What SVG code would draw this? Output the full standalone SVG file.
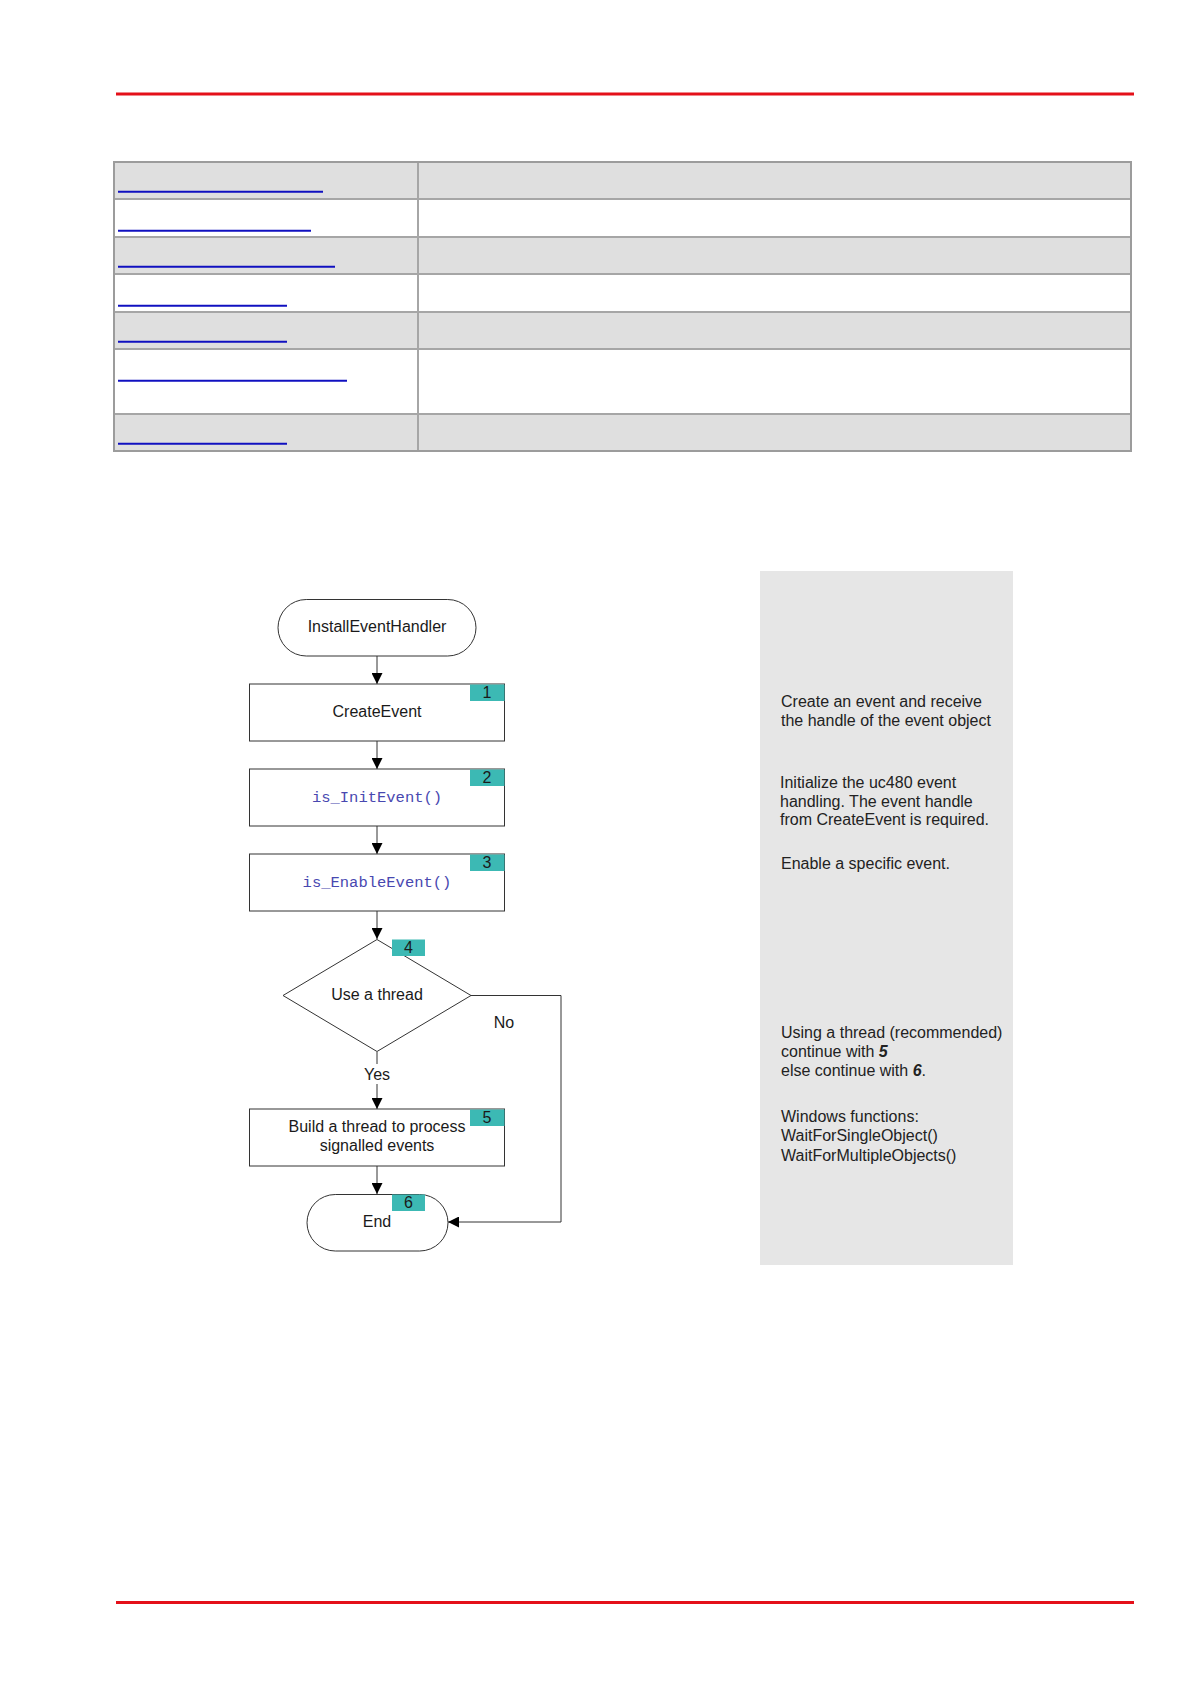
<svg xmlns="http://www.w3.org/2000/svg" width="1190" height="1684" viewBox="0 0 1190 1684">
<style>
.t{font-family:"Liberation Sans",Arial,sans-serif;font-size:16px;fill:#1a1a1a}
.c{text-anchor:middle}
.m{font-family:"Liberation Mono","Courier New",monospace;font-size:15.5px;fill:#4848b0;text-anchor:middle}
.box{fill:#fff;stroke:#333;stroke-width:1}
.tag{fill:#3cb9b4}
.conn{fill:none;stroke:#333;stroke-width:1}
.row{stroke:#a6a6a6;stroke-width:2}
.lnk{stroke:#1010c0;stroke-width:2}
.p{font-family:"Liberation Sans",Arial,sans-serif;font-size:16px;fill:#222}
</style>
<defs>
<marker id="ah" markerUnits="userSpaceOnUse" markerWidth="11" markerHeight="11" refX="11" refY="5.5" orient="auto">
<path d="M0,0 L11,5.5 L0,11 z" fill="#000"/>
</marker>
</defs>
<rect width="1190" height="1684" fill="#fff"/>
<line x1="116" y1="94" x2="1134" y2="94" stroke="#e41019" stroke-width="3"/>
<line x1="116" y1="1602.5" x2="1134" y2="1602.5" stroke="#e41019" stroke-width="3"/>

<g id="table">
<rect x="114" y="162" width="1017" height="37" fill="#dfdfdf"/>
<rect x="114" y="199" width="1017" height="38" fill="#fff"/>
<rect x="114" y="237" width="1017" height="37" fill="#dfdfdf"/>
<rect x="114" y="274" width="1017" height="38" fill="#fff"/>
<rect x="114" y="312" width="1017" height="37" fill="#dfdfdf"/>
<rect x="114" y="349" width="1017" height="65" fill="#fff"/>
<rect x="114" y="414" width="1017" height="37" fill="#dfdfdf"/>
<line class="row" x1="114" y1="199" x2="1131" y2="199"/>
<line class="row" x1="114" y1="237" x2="1131" y2="237"/>
<line class="row" x1="114" y1="274" x2="1131" y2="274"/>
<line class="row" x1="114" y1="312" x2="1131" y2="312"/>
<line class="row" x1="114" y1="349" x2="1131" y2="349"/>
<line class="row" x1="114" y1="414" x2="1131" y2="414"/>
<line class="row" x1="418" y1="162" x2="418" y2="451"/>
<rect x="114" y="162" width="1017" height="289" fill="none" stroke="#9c9c9c" stroke-width="2"/>
<line class="lnk" x1="118" y1="191.7" x2="323" y2="191.7"/>
<line class="lnk" x1="118" y1="230.7" x2="311" y2="230.7"/>
<line class="lnk" x1="118" y1="266.7" x2="335" y2="266.7"/>
<line class="lnk" x1="118" y1="305.7" x2="287" y2="305.7"/>
<line class="lnk" x1="118" y1="341.7" x2="287" y2="341.7"/>
<line class="lnk" x1="118" y1="380.7" x2="347" y2="380.7"/>
<line class="lnk" x1="118" y1="443.7" x2="287" y2="443.7"/>
</g>

<g id="panel">
<rect x="760" y="571" width="253" height="694" fill="#e6e6e6"/>
<text class="p" x="781" y="707">Create an event and receive</text>
<text class="p" x="781" y="726">the handle of the event object</text>
<text class="p" x="780" y="788" fill="#000">Initialize the uc480 event</text>
<text class="p" x="780" y="807" fill="#000">handling. The event handle</text>
<text class="p" x="780" y="825" fill="#000">from CreateEvent is required.</text>
<text class="p" x="781" y="869">Enable a specific event.</text>
<text class="p" x="781" y="1038">Using a thread (recommended)</text>
<text class="p" x="781" y="1057">continue with <tspan font-weight="bold" font-style="italic">5</tspan></text>
<text class="p" x="781" y="1076">else continue with <tspan font-weight="bold" font-style="italic">6</tspan>.</text>
<text class="p" x="781" y="1122">Windows functions:</text>
<text class="p" x="781" y="1141">WaitForSingleObject()</text>
<text class="p" x="781" y="1161">WaitForMultipleObjects()</text>
</g>

<g id="connectors">
<line class="conn" x1="377" y1="656" x2="377" y2="684" marker-end="url(#ah)"/>
<line class="conn" x1="377" y1="741" x2="377" y2="769" marker-end="url(#ah)"/>
<line class="conn" x1="377" y1="826" x2="377" y2="854" marker-end="url(#ah)"/>
<line class="conn" x1="377" y1="911" x2="377" y2="939" marker-end="url(#ah)"/>
<line class="conn" x1="377" y1="1052" x2="377" y2="1064"/>
<line class="conn" x1="377" y1="1084" x2="377" y2="1109" marker-end="url(#ah)"/>
<polyline class="conn" points="471,995.5 561,995.5 561,1222 448,1222" marker-end="url(#ah)"/>
<line class="conn" x1="377" y1="1166" x2="377" y2="1194" marker-end="url(#ah)"/>
<text class="t c" x="377" y="1080">Yes</text>
<text class="t c" x="504" y="1028">No</text>
</g>

<g id="start">
<rect class="box" x="278" y="599.5" width="198" height="56.5" rx="28.25"/>
<text class="t c" x="377" y="632">InstallEventHandler</text>
</g>

<g id="step1">
<rect class="box" x="249.5" y="684" width="255" height="57"/>
<rect class="tag" x="470" y="684.5" width="34.5" height="16.5"/>
<text class="t c" x="487" y="698">1</text>
<text class="t c" x="377" y="717">CreateEvent</text>
</g>

<g id="step2">
<rect class="box" x="249.5" y="769" width="255" height="57"/>
<rect class="tag" x="470" y="769.5" width="34.5" height="16.5"/>
<text class="t c" x="487" y="783">2</text>
<text class="m" x="377" y="802">is_InitEvent()</text>
</g>

<g id="step3">
<rect class="box" x="249.5" y="854" width="255" height="57"/>
<rect class="tag" x="470" y="854.5" width="34.5" height="16.5"/>
<text class="t c" x="487" y="868">3</text>
<text class="m" x="377" y="887">is_EnableEvent()</text>
</g>

<g id="step4">
<polygon class="box" points="377,939.5 471,995.5 377,1051.5 283,995.5"/>
<rect class="tag" x="392" y="939.5" width="33" height="16.5"/>
<text class="t c" x="408.5" y="953">4</text>
<text class="t c" x="377" y="1000">Use a thread</text>
</g>

<g id="step5">
<rect class="box" x="249.5" y="1109" width="255" height="57"/>
<rect class="tag" x="470" y="1109.5" width="34.5" height="16.5"/>
<text class="t c" x="487" y="1123">5</text>
<text class="t c" x="377" y="1132">Build a thread to process</text>
<text class="t c" x="377" y="1151">signalled events</text>
</g>

<g id="end">
<rect class="box" x="307" y="1194.5" width="141" height="56.5" rx="28.25"/>
<rect class="tag" x="392" y="1194.5" width="33" height="16.5"/>
<text class="t c" x="408.5" y="1208">6</text>
<text class="t c" x="377" y="1227">End</text>
</g>
</svg>
